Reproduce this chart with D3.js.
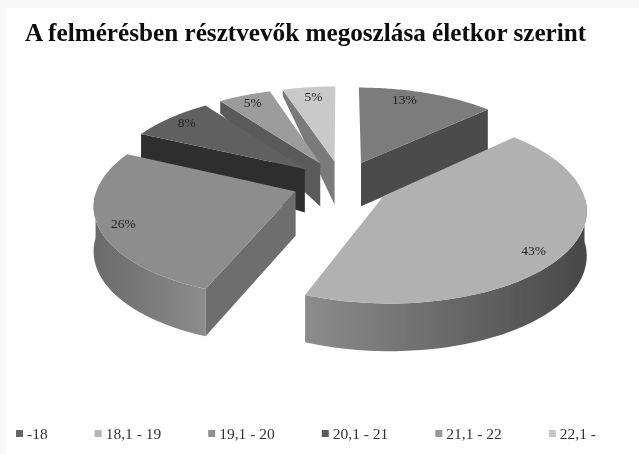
<!DOCTYPE html>
<html>
<head>
<meta charset="utf-8">
<script src="https://cdn.jsdelivr.net/npm/d3@7/dist/d3.min.js"></script>
<style>
    html, body { margin: 0; padding: 0; background: #fff; }
    svg { display: block; }
    text { font-family: "Liberation Serif", serif; }
</style>
</head>
<body>
<svg id="chart" width="639" height="454"></svg>
<script>
(function () {
    'use strict';

    const categories = ['-18', '18,1 - 19', '19,1 - 20', '20,1 - 21', '21,1 - 22', '22,1 -'];
    const shares = [13, 43, 26, 8, 5, 5];
    const chartTitle = 'A felmérésben résztvevők megoszlása életkor szerint';

    // style of each slice, same order as categories
    const topColors = ['#7b7b7b', '#b1b1b1', '#8d8d8d', '#616161', '#9c9c9c', '#c9c9c9'];
    const wallColors = ['#4b4b4b', '#505050', '#6e6e6e', '#2d2d2d', '#5a5a5a', '#7a7a7a'];
    const outerFrom = ['#4b4b4b', '#8c8c8c', '#6a6a6a', '#2d2d2d', '#5a5a5a', '#7a7a7a'];
    const outerTo = ['#4b4b4b', '#484848', '#8c8c8c', '#2d2d2d', '#5a5a5a', '#7a7a7a'];
    const legendColors = ['#666666', '#b5b5b5', '#8b9396', '#5a5a5a', '#8f9a9e', '#c6c9cc'];
    const labelAngles = [17.5, 128.6, 248, 311, 333, 351.6];
    const labelRadius = [0.87, 0.87, 0.88, 0.89, 0.88, 0.86];

    // pie geometry
    const cx = 342, cy = 183;
    const rx = 197, ry = 90;
    const persp = 0.13;
    const explode = 0.25;

    const svg = d3.select('#chart');
    const defs = svg.append('defs');
    const blur = defs.append('filter').attr('id', 'soft')
        .attr('x', 0).attr('y', 0).attr('width', 1).attr('height', 1);
    blur.append('feGaussianBlur').attr('stdDeviation', 0.55);

    svg.append('rect').attr('width', 639).attr('height', 454).attr('fill', '#f8f8f8');
    const root = svg.append('g').attr('filter', 'url(#soft)');
    root.append('rect').attr('x', 6).attr('y', 8).attr('width', 633).attr('height', 446).attr('fill', '#fff');

    function project(X, Y) {
        const w = 1 / (1 - persp * Y);
        return [cx + X * rx * w, cy + Y * ry * w];
    }

    // wall height shrinks towards the far left of the pie
    function wallHeight(X, Y) {
        const w = 1 / (1 - persp * Y);
        const side = Math.min(1, Math.max(0, -X / 0.3));
        return 44 * Math.sqrt(w) - 35 * side * Math.max(0, -Y - 0.2);
    }

    function planePoint(slice, angle, r) {
        const mid = (slice.startAngle + slice.endAngle) / 2;
        return [
            explode * Math.sin(mid) + r * Math.sin(angle),
            -explode * Math.cos(mid) - r * Math.cos(angle)
        ];
    }

    function top(slice, angle, r) {
        const p = planePoint(slice, angle, r);
        return project(p[0], p[1]);
    }

    function bottom(slice, angle, r) {
        const p = planePoint(slice, angle, r);
        const q = project(p[0], p[1]);
        return [q[0], q[1] + wallHeight(p[0], p[1])];
    }

    const line = d3.line();

    const pie = d3.pie().sort(null);
    const slices = pie(shares).map((d, i) => Object.assign(d, { i: i }));

    // paint from the back of the pie to the front
    const order = slices.slice().sort((a, b) => {
        const ya = -Math.cos((a.startAngle + a.endAngle) / 2);
        const yb = -Math.cos((b.startAngle + b.endAngle) / 2);
        return ya - yb;
    });

    order.forEach((d) => drawSlice(d));

    function drawSlice(d) {
        const g = root.append('g');
        const steps = d3.range(0, 61).map((k) => d.startAngle + (d.endAngle - d.startAngle) * k / 60);

        // outer wall, only the part that faces the viewer
        const front = steps.filter((a) => Math.cos(a) < 0);
        if (front.length > 1) {
            const pts = front.map((a) => top(d, a, 1))
                .concat(front.slice().reverse().map((a) => bottom(d, a, 1)));
            const xr = d3.extent(pts, (p) => p[0]);
            const gid = 'outer' + d.i;
            const grad = defs.append('linearGradient').attr('id', gid)
                .attr('gradientUnits', 'userSpaceOnUse')
                .attr('x1', xr[0]).attr('x2', xr[1]).attr('y1', 0).attr('y2', 0);
            grad.append('stop').attr('offset', 0).attr('stop-color', outerFrom[d.i]);
            grad.append('stop').attr('offset', 1).attr('stop-color', outerTo[d.i]);
            g.append('path').attr('d', line(pts) + 'Z').attr('fill', 'url(#' + gid + ')');
        }

        // radial walls: the end one faces us on the right half, the start one on the left half
        const wallAngle = Math.sin((d.startAngle + d.endAngle) / 2) > 0 ? d.endAngle : d.startAngle;
        if (d.i !== 1) {
            const pts = [top(d, wallAngle, 0), top(d, wallAngle, 1), bottom(d, wallAngle, 1), bottom(d, wallAngle, 0)];
            g.append('path').attr('d', line(pts) + 'Z').attr('fill', wallColors[d.i]);
        }

        // top face
        const face = [top(d, 0, 0)].concat(steps.map((a) => top(d, a, 1)));
        g.append('path').attr('d', line(face) + 'Z').attr('fill', topColors[d.i]);
    }

    // percent labels
    slices.forEach((d) => {
        const p = top(d, labelAngles[d.i] * Math.PI / 180, labelRadius[d.i]);
        root.append('text')
            .attr('x', p[0]).attr('y', p[1])
            .attr('text-anchor', 'middle')
            .attr('dominant-baseline', 'central')
            .attr('font-size', 13.5)
            .attr('fill', '#222')
            .text(d.data + '%');
    });

    root.append('text')
        .attr('x', 25).attr('y', 41)
        .attr('font-size', 25.2)
        .attr('font-weight', 'bold')
        .attr('fill', '#0a0a0a')
        .text(chartTitle);

    // legend, each entry placed after the width of the one before it
    let legendX = 16;
    categories.forEach((name, i) => {
        root.append('rect')
            .attr('x', legendX).attr('y', 430)
            .attr('width', 7).attr('height', 7)
            .attr('fill', legendColors[i]);
        const label = root.append('text')
            .attr('x', legendX + 11).attr('y', 439)
            .attr('font-size', 15.5)
            .attr('fill', '#333')
            .text(name);
        legendX += 11 + label.node().getComputedTextLength() + 47;
    });
})();
</script>
</body>
</html>
